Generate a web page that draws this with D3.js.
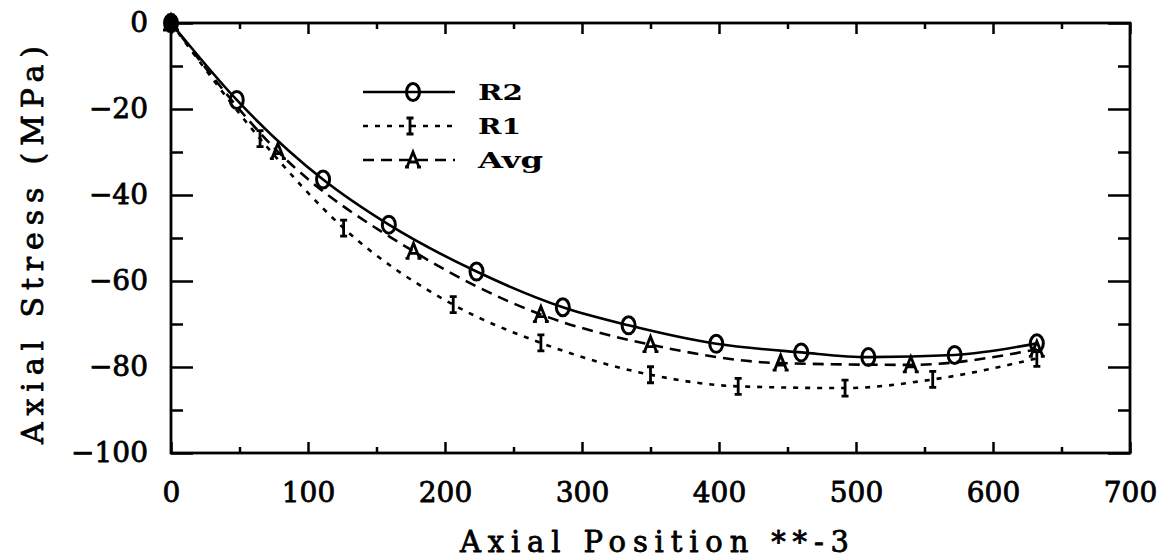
<!DOCTYPE html>
<html>
<head>
<meta charset="utf-8">
<script src="https://cdn.jsdelivr.net/npm/d3@7"></script>
<style>
  html, body { margin: 0; padding: 0; background: #fff; }
  svg { display: block; }
</style>
</head>
<body>
<svg id="chart" width="1169" height="559"></svg>
<script>
// ---- data ----
const r2X = [0, 48, 111, 159, 223, 286, 334, 398, 460, 509, 572, 632];
const r2Y = [0, -17.9, -36.4, -46.9, -57.8, -66.1, -70.3, -74.6, -76.6, -77.7, -77.2, -74.5];

const r1X = [0, 65, 126, 206, 270, 350, 414, 492, 556, 632];
const r1Y = [0, -26.9, -47.7, -65.5, -74.4, -81.8, -84.5, -84.9, -82.9, -78.0];

const avgX = [0, 78, 177, 270, 350, 445, 540, 632];
const avgY = [0, -29.9, -53.1, -67.8, -74.8, -79.1, -79.5, -75.9];

const seriesNames = ["R2", "R1", "Avg"];
const xMajorTicks = [0, 100, 200, 300, 400, 500, 600, 700];
const xMinorTicks = [50, 150, 250, 350, 450, 550, 650];
const yMajorTicks = [0, -20, -40, -60, -80, -100];
const yMinorTicks = [-10, -30, -50, -70, -90];
const xTitle = "Axial Position **-3";
const yTitle = "Axial Stress (MPa)";

// ---- layout ----
const svg = d3.select("#chart");
const x = d3.scaleLinear().domain([0, 700]).range([171, 1130]);
const y = d3.scaleLinear().domain([-100, 0]).range([453, 23]);
const serifFont = "'DejaVu Serif', 'Liberation Serif', serif";

function heavy(sel, w) {
  return sel.attr("fill", "#000").attr("stroke", "#000").attr("stroke-width", w)
    .attr("stroke-linejoin", "round");
}

function styleAxis(g) {
  g.select(".domain").remove();
  g.selectAll(".tick line").attr("stroke", "#000").attr("stroke-width", 2.5);
  g.selectAll("text").attr("font-family", serifFont).attr("font-size", 28)
    .call(heavy, 0.8);
}

const minus = d => (d < 0 ? "\u2212" + Math.abs(d) : String(d));

// bottom
svg.append("g").attr("transform", `translate(0,${y(-100)})`)
  .call(d3.axisBottom(x).tickValues(xMajorTicks).tickSize(-11).tickPadding(29).tickFormat(d => String(d)))
  .call(styleAxis);
svg.append("g").attr("transform", `translate(0,${y(-100)})`)
  .call(d3.axisBottom(x).tickValues(xMinorTicks).tickSize(-6).tickFormat(""))
  .call(styleAxis);
// top
svg.append("g").attr("transform", `translate(0,${y(0)})`)
  .call(d3.axisTop(x).tickValues(xMajorTicks).tickSize(-11).tickFormat(""))
  .call(styleAxis);
svg.append("g").attr("transform", `translate(0,${y(0)})`)
  .call(d3.axisTop(x).tickValues(xMinorTicks).tickSize(-6).tickFormat(""))
  .call(styleAxis);
// left
svg.append("g").attr("transform", `translate(${x(0)},0)`)
  .call(d3.axisLeft(y).tickValues(yMajorTicks).tickSize(-22).tickPadding(23).tickFormat(minus))
  .call(styleAxis);
svg.append("g").attr("transform", `translate(${x(0)},0)`)
  .call(d3.axisLeft(y).tickValues(yMinorTicks).tickSize(-12).tickFormat(""))
  .call(styleAxis);
// right
svg.append("g").attr("transform", `translate(${x(700)},0)`)
  .call(d3.axisRight(y).tickValues(yMajorTicks).tickSize(-22).tickFormat(""))
  .call(styleAxis);
svg.append("g").attr("transform", `translate(${x(700)},0)`)
  .call(d3.axisRight(y).tickValues(yMinorTicks).tickSize(-12).tickFormat(""))
  .call(styleAxis);

// frame
svg.append("rect")
  .attr("x", x(0)).attr("y", y(0))
  .attr("width", x(700) - x(0)).attr("height", y(-100) - y(0))
  .attr("fill", "none").attr("stroke", "#000").attr("stroke-width", 2.8);

// titles
svg.append("text")
  .attr("x", (x(0) + x(700)) / 2 + 4).attr("y", 552)
  .attr("text-anchor", "middle")
  .attr("font-family", serifFont).attr("font-size", 29)
  .attr("textLength", 389).attr("lengthAdjust", "spacing")
  .call(heavy, 0.8)
  .text(xTitle);

svg.append("text")
  .attr("transform", `translate(43,${(y(0) + y(-100)) / 2 + 7}) rotate(-90)`)
  .attr("text-anchor", "middle")
  .attr("font-family", serifFont).attr("font-size", 30)
  .attr("textLength", 398).attr("lengthAdjust", "spacing")
  .call(heavy, 0.8)
  .text(yTitle);

// ---- series ----
const toPts = (xs, ys) => xs.map((v, i) => [v, ys[i]]);
const series = [
  { name: seriesNames[0], pts: toPts(r2X, r2Y), dash: null, marker: "circle" },
  { name: seriesNames[1], pts: toPts(r1X, r1Y), dash: "5,7", marker: "ibeam" },
  { name: seriesNames[2], pts: toPts(avgX, avgY), dash: "11,7", marker: "A" }
];

const line = d3.line().x(d => x(d[0])).y(d => y(d[1])).curve(d3.curveMonotoneX);

const markerPath = {
  ibeam: "M0,-8V8M-3.5,-8H3.5M-3.5,8H3.5",
  A: "M-6,7L0,-8L6,7M-3.5,2H3.5M-8,7H-4M4,7H8"
};

function drawMarker(g, type, cx, cy, filled) {
  if (type === "circle") {
    g.append("ellipse").attr("cx", cx).attr("cy", cy).attr("rx", 6.5).attr("ry", 8.5)
      .attr("fill", filled ? "#000" : "none").attr("stroke", "#000").attr("stroke-width", 3);
  } else {
    g.append("path").attr("d", markerPath[type])
      .attr("transform", `translate(${cx},${cy})`)
      .attr("fill", "none").attr("stroke", "#000").attr("stroke-width", 2.8)
      .attr("stroke-linejoin", "miter");
  }
}

const plot = svg.append("g");
series.forEach(s => {
  plot.append("path").datum(s.pts)
    .attr("d", line)
    .attr("fill", "none").attr("stroke", "#000").attr("stroke-width", 2.6)
    .attr("stroke-dasharray", s.dash);
});
series.slice().reverse().forEach(s => {
  const g = plot.append("g");
  s.pts.forEach((p, i) => drawMarker(g, s.marker, x(p[0]), y(p[1]), i === 0));
});

// ---- legend ----
const legendRowsY = [92, 126, 160];
const legendTextLen = [45, 43, 65];
const legend = svg.append("g");
series.forEach((s, i) => {
  const ly = legendRowsY[i];
  legend.append("line").attr("x1", 363).attr("x2", 455).attr("y1", ly).attr("y2", ly)
    .attr("stroke", "#000").attr("stroke-width", 2.6).attr("stroke-dasharray", s.dash);
  drawMarker(legend, s.marker, s.marker === "ibeam" ? 410 : 413, ly, false);
  legend.append("text").attr("x", 478).attr("y", ly + 8)
    .attr("font-family", serifFont).attr("font-weight", "bold").attr("font-size", 23)
    .attr("textLength", legendTextLen[i]).attr("lengthAdjust", "spacingAndGlyphs")
    .text(s.name);
});
</script>
</body>
</html>
